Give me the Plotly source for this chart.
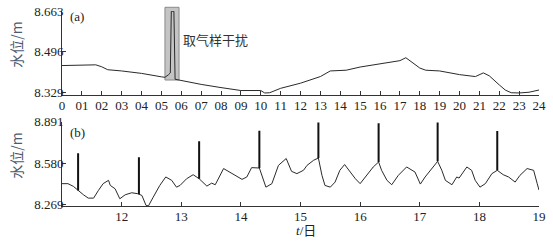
import numpy as np
import plotly.graph_objects as go
from plotly.subplots import make_subplots

# Panel (a): hours vs water level
a_hour = [0, 1.0, 1.7, 2.0, 2.3, 3.0, 4.0, 5.0, 5.18, 5.35, 5.45, 5.50, 5.63, 5.69, 6.0,
          7.0, 8.0, 9.0, 10.0, 10.2, 10.45, 11, 12, 13, 13.5, 14, 14.3, 15, 16, 17,
          17.3, 17.5, 18, 18.3, 19, 20, 20.8, 21.2, 21.5, 22, 22.3, 22.6, 23, 23.5, 24]
a_val = [8.440, 8.441, 8.443, 8.435, 8.423, 8.418, 8.408, 8.394, 8.392, 8.402, 8.410, 8.662, 8.662, 8.384, 8.379,
         8.363, 8.350, 8.338, 8.338, 8.328, 8.329, 8.347, 8.368, 8.395, 8.418, 8.418, 8.421, 8.434, 8.446, 8.460,
         8.472, 8.461, 8.430, 8.421, 8.418, 8.403, 8.395, 8.410, 8.398, 8.361, 8.340, 8.329, 8.328, 8.331, 8.340]
a_ticks = list(range(0, 25))
a_ticklabels = ["0"] + ["%02d" % h for h in range(1, 25)]
a_yticks = [8.329, 8.496, 8.663]

# Panel (b): days vs water level
b_day = [11.00, 11.10, 11.19, 11.27, 11.36, 11.44, 11.53, 11.61, 11.69, 11.78, 11.81, 11.89, 11.97, 12.06, 12.17,
         12.27, 12.34, 12.41, 12.45, 12.53, 12.64, 12.74, 12.84, 12.92, 12.98, 13.09, 13.20, 13.30, 13.43, 13.51,
         13.57, 13.71, 13.82, 13.93, 14.02, 14.10, 14.18, 14.31, 14.35, 14.42, 14.52, 14.63, 14.76, 14.85, 14.94,
         15.05, 15.11, 15.22, 15.30, 15.36, 15.41, 15.50, 15.58, 15.66, 15.74, 15.83, 15.92, 16.00, 16.11, 16.22,
         16.31, 16.36, 16.45, 16.53, 16.64, 16.78, 16.92, 17.01, 17.09, 17.20, 17.30, 17.37, 17.43, 17.54, 17.62,
         17.66, 17.79, 17.87, 17.93, 18.01, 18.10, 18.21, 18.30, 18.40, 18.49, 18.60, 18.68, 18.80, 18.91, 18.97, 19.00]
b_val = [8.428, 8.428, 8.408, 8.377, 8.345, 8.320, 8.320, 8.377, 8.428, 8.453, 8.415, 8.390, 8.315, 8.345, 8.360,
         8.353, 8.340, 8.265, 8.262, 8.327, 8.415, 8.478, 8.453, 8.402, 8.415, 8.465, 8.495, 8.465, 8.410, 8.432,
         8.420, 8.541, 8.511, 8.483, 8.460, 8.478, 8.548, 8.545, 8.490, 8.402, 8.428, 8.565, 8.616, 8.520, 8.503,
         8.528, 8.565, 8.603, 8.620, 8.490, 8.415, 8.402, 8.440, 8.528, 8.571, 8.515, 8.465, 8.428, 8.490, 8.553,
         8.590, 8.528, 8.453, 8.420, 8.490, 8.553, 8.515, 8.425, 8.478, 8.541, 8.595, 8.528, 8.453, 8.420, 8.478,
         8.470, 8.553, 8.528, 8.453, 8.402, 8.428, 8.503, 8.528, 8.495, 8.478, 8.440, 8.490, 8.541, 8.528, 8.428, 8.380]
spike_day = [11.27, 12.29, 13.30, 14.31, 15.30, 16.31, 17.30, 18.30]
spike_top = [8.655, 8.625, 8.746, 8.823, 8.886, 8.879, 8.886, 8.821]
b_ticks = [12, 13, 14, 15, 16, 17, 18, 19]
b_yticks = [8.269, 8.580, 8.891]

spike_base = np.interp(spike_day, b_day, b_val)
sx, sy = [], []
for d, b, t in zip(spike_day, spike_base, spike_top):
    sx += [d, d, None]
    sy += [b, t, None]

SERIF = "Liberation Serif, Times New Roman, serif"
CJK = "Noto Sans CJK SC"
AX = "#333333"

fig = make_subplots(rows=2, cols=1)
fig.add_trace(go.Scatter(x=a_hour, y=a_val, mode="lines",
                         line=dict(color="#2a2a2a", width=1)), row=1, col=1)
fig.add_trace(go.Scatter(x=b_day, y=b_val, mode="lines",
                         line=dict(color="#2a2a2a", width=1)), row=2, col=1)
fig.add_trace(go.Scatter(x=sx, y=sy, mode="lines",
                         line=dict(color="#111111", width=2)), row=2, col=1)

axcommon = dict(showline=True, linecolor=AX, linewidth=1, ticks="inside", ticklen=4,
                tickcolor=AX, showgrid=False, zeroline=False, automargin=False,
                tickfont=dict(family=SERIF, size=13, color="#222222"))

fig.update_layout(
    width=553, height=242, margin=dict(l=62, r=14, t=11, b=36, autoexpand=False),
    paper_bgcolor="white", plot_bgcolor="white", showlegend=False,
    xaxis=dict(domain=[0, 1], range=[0, 24], tickvals=a_ticks, ticktext=a_ticklabels,
               ticklabelstandoff=-2, **axcommon),
    yaxis=dict(domain=[0.569, 1], range=[8.3195, 8.663], tickvals=a_yticks,
               ticktext=["%.3f" % v for v in a_yticks], ticklabelstandoff=-5, **axcommon),
    xaxis2=dict(domain=[0, 1], range=[11, 19], tickvals=b_ticks,
                ticklabelstandoff=-2, **axcommon),
    yaxis2=dict(domain=[0, 0.432], range=[8.261, 8.891], tickvals=b_yticks,
                ticktext=["%.3f" % v for v in b_yticks], ticklabelstandoff=-5, **axcommon),
)

fig.add_shape(type="rect", xref="x", yref="paper", x0=5.18, x1=5.89, y0=0.646, y1=1.019,
              fillcolor="#c4c4c4", line=dict(color="#8a8a8a", width=1), layer="below")

ann = [
    dict(text="水位/m", x=-0.097, y=(206 - 45) / 195, xref="paper", yref="paper",
         textangle=-90, font=dict(family=CJK, size=14, color="#4d5a70")),
    dict(text="水位/m", x=-0.097, y=(206 - 156) / 195, xref="paper", yref="paper",
         textangle=-90, font=dict(family=CJK, size=14, color="#4d5a70")),
    dict(text="(a)", x=0.012, y=(206 - 16) / 195, xref="paper", yref="paper", xanchor="left",
         font=dict(family=SERIF, size=13, color="#222222")),
    dict(text="(b)", x=0.012, y=(206 - 132) / 195, xref="paper", yref="paper", xanchor="left",
         font=dict(family=SERIF, size=13, color="#222222")),
    dict(text="取气样干扰", x=5.98, y=8.545, xref="x", yref="y", xanchor="left",
         font=dict(family=CJK, size=13, color="#333333")),
    dict(text="<i>t</i>/日", x=15.1, y=(206 - 230) / 195, xref="x2", yref="paper",
         font=dict(family=SERIF + ", " + CJK, size=13, color="#222222")),
]
for a in ann:
    a.setdefault("showarrow", False)
    a.setdefault("xanchor", "center")
    a.setdefault("yanchor", "middle")
    fig.add_annotation(**a)

fig.write_html("out.html", config={"displayModeBar": False},
               post_script="document.body.style.margin='0';")
